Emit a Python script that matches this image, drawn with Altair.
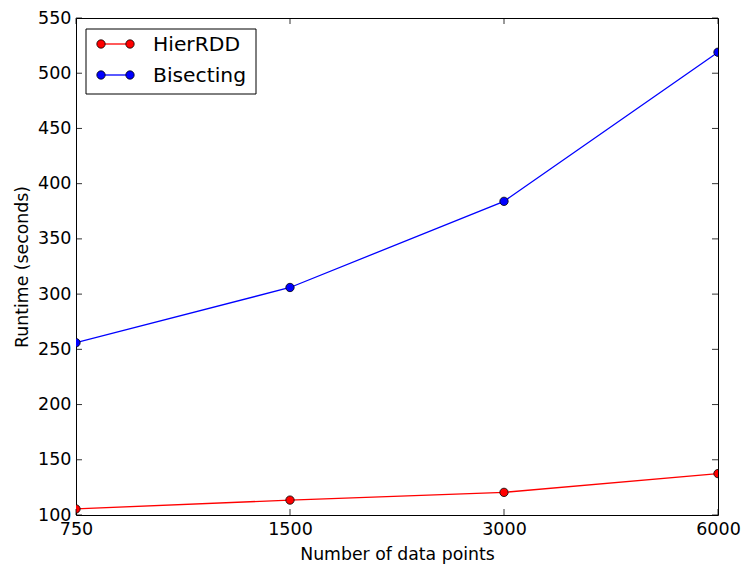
import altair as alt
import pandas as pd

x_points = [750, 1500, 3000, 6000]
series_names = ["HierRDD", "Bisecting"]
hier_rdd = [105.5, 113.5, 120.5, 137.5]
bisecting = [256, 306, 384, 519]
y_ticks = [100, 150, 200, 250, 300, 350, 400, 450, 500, 550]
colors = ["#ff0000", "#0000ff"]

W, H = 642, 497
FONT = "DejaVu Sans"

rows = []
for name, vals in zip(series_names, [hier_rdd, bisecting]):
    for xv, yv in zip(x_points, vals):
        rows.append({"n": xv, "runtime": yv, "series": name})
df = pd.DataFrame(rows)

xscale = alt.Scale(type="log", base=2, domain=[750, 6000], nice=False)
yscale = alt.Scale(domain=[100, 550], nice=False, zero=False)
cscale = alt.Scale(domain=series_names, range=colors)

xenc = alt.X("n:Q", scale=xscale,
             axis=alt.Axis(values=x_points, format="d", title="Number of data points",
                           labelFlush=False, labelOverlap=False, labelBaseline="alphabetic",
                           labelPadding=19, titleY=44, titleBaseline="alphabetic"))
yenc = alt.Y("runtime:Q", scale=yscale,
             axis=alt.Axis(values=y_ticks, title="Runtime (seconds)", labelFlush=False,
                           labelOverlap=False, labelPadding=5, titleX=-49, titleY=H / 2,
                           titleBaseline="alphabetic", titleAngle=-90, titleAlign="center"))

lines = alt.Chart(df).mark_line(clip=True, strokeWidth=1.3).encode(
    x=xenc, y=yenc,
    color=alt.Color("series:N", scale=cscale, legend=None),
    detail="series:N",
)
points = alt.Chart(df).mark_point(clip=True, filled=True, shape="circle", size=70,
                                  stroke="black", strokeWidth=0.8, opacity=1).encode(
    x="n:Q", y="runtime:Q",
    fill=alt.Fill("series:N", scale=cscale, legend=None),
)

yt = pd.DataFrame({"t": y_ticks})
xt = pd.DataFrame({"t": x_points})
tick_style = dict(color="black", strokeWidth=0.8)
ytick_l = alt.Chart(yt).mark_rule(**tick_style).encode(y="t:Q", x=alt.value(0), x2=alt.value(6))
ytick_r = alt.Chart(yt).mark_rule(**tick_style).encode(y="t:Q", x=alt.value(W - 6), x2=alt.value(W))
xtick_b = alt.Chart(xt).mark_rule(**tick_style).encode(x="t:Q", y=alt.value(H - 6), y2=alt.value(H))
xtick_t = alt.Chart(xt).mark_rule(**tick_style).encode(x="t:Q", y=alt.value(0), y2=alt.value(6))

one = pd.DataFrame({"a": [0]})
legend_box = alt.Chart(one).mark_rect(fill="white", stroke="black", strokeWidth=1).encode(
    x=alt.value(10), x2=alt.value(180), y=alt.value(11), y2=alt.value(76))

legend_layers = [legend_box]
row_y = [26, 57]
for name, col, ry in zip(series_names, colors, row_y):
    d = pd.DataFrame({"series": [name]})
    legend_layers.append(alt.Chart(d).mark_rule(color=col, strokeWidth=1.3).encode(
        x=alt.value(25), x2=alt.value(54), y=alt.value(ry)))
    for mx in (25, 54):
        legend_layers.append(alt.Chart(d).mark_point(filled=True, shape="circle", size=70, fill=col,
                                                     stroke="black", strokeWidth=0.8, opacity=1).encode(
            x=alt.value(mx), y=alt.value(ry)))
    legend_layers.append(alt.Chart(d).mark_text(align="left", baseline="middle", font=FONT,
                                                fontSize=20.3, color="black").encode(
        x=alt.value(77), y=alt.value(ry + 1), text="series:N"))

chart = alt.layer(lines, points, ytick_l, ytick_r, xtick_b, xtick_t, *legend_layers).properties(
    width=W, height=H,
    autosize=alt.AutoSizeParams(type="none"),
    padding={"left": 76, "top": 18, "right": 28, "bottom": 52},
    background="white",
).configure_view(stroke="black", strokeWidth=1).configure_axis(
    domain=False, ticks=False, tickSize=0, grid=False,
    labelFont=FONT, labelFontSize=17.5, labelColor="black",
    titleFont=FONT, titleFontSize=17.3, titleFontWeight="normal", titleColor="black",
)

chart.save("out.html", embed_options={"renderer": "svg", "actions": False})
